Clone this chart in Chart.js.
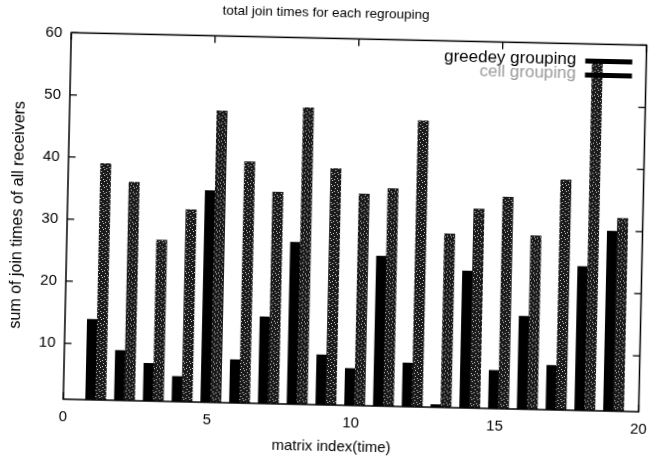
<!DOCTYPE html>
<html>
<head>
<meta charset="utf-8">
<script src="https://cdn.jsdelivr.net/npm/chart.js"></script>
<style>
html,body{margin:0;padding:0;background:#fff;overflow:hidden;}
#wrap{width:663px;height:463px;transform:rotate(1.25deg);transform-origin:50% 50%;}
</style>
</head>
<body>
<div id="wrap"><canvas id="joinChart" width="663" height="463"></canvas></div>
<script>
const matrixIndex=[1,2,3,4,5,6,7,8,9,10,11,12,13,14,15,16,17,18,19];
const greedeyTimes=[14.0,9.1,7.1,5.1,35.1,8.0,15.0,27.1,9.1,7.0,25.2,8.1,1.5,23.1,7.2,16.0,8.2,24.2,30.0];
const cellTimes=[39.1,36.2,27.0,32.0,48.0,39.9,35.1,48.8,39.1,35.1,36.1,47.1,29.0,33.1,35.1,29.0,38.1,57.5,32.1];
const xTicks=[0,5,10,15,20];
const yTicks=[10,20,30,40,50,60];
const seriesNames=["greedey grouping","cell grouping"];
const xTitle="matrix index(time)";

const FONT="'Liberation Sans', Arial, sans-serif";
const CELL_SHIFT=0.3; // cell boxes sit to the right of the greedey boxes

// dithered grey like the scanned gnuplot fill
function makeDither(){
    const c=document.createElement("canvas");
    c.width=6;c.height=6;
    const g=c.getContext("2d");
    g.fillStyle="#1a1a1a";g.fillRect(0,0,6,6);
    g.fillStyle="#d0d0d0";
    [[1,0],[4,2],[0,4],[3,5]].forEach(p=>g.fillRect(p[0],p[1],1,1));
    return g.createPattern(c,"repeat");
}

const frameAndKey={
    id:"frameAndKey",
    afterDatasetsDraw(chart){
        const {ctx,chartArea:a,scales}=chart;
        ctx.save();
        ctx.strokeStyle="#000";
        ctx.lineWidth=1.5;
        ctx.strokeRect(a.left,a.top,a.right-a.left,a.bottom-a.top);
        ctx.lineWidth=1.3;
        ctx.beginPath();
        yTicks.forEach(v=>{
            const y=scales.y.getPixelForValue(v);
            ctx.moveTo(a.left,y);ctx.lineTo(a.left+7,y);
            ctx.moveTo(a.right,y);ctx.lineTo(a.right-7,y);
        });
        xTicks.forEach(v=>{
            const x=scales.x.getPixelForValue(v);
            ctx.moveTo(x,a.bottom);ctx.lineTo(x,a.bottom-7);
            ctx.moveTo(x,a.top);ctx.lineTo(x,a.top+7);
        });
        ctx.stroke();
        // key, top right inside the plot
        const textColors=["#000","#9a9a9a"];
        ctx.font="17px "+FONT;
        ctx.textAlign="right";
        ctx.textBaseline="middle";
        chart.data.datasets.forEach((ds,i)=>{
            const y=a.top+17+i*14;
            ctx.fillStyle=textColors[i];
            ctx.fillText(ds.label,a.right-70,y-1);
            ctx.strokeStyle="#000";
            ctx.lineWidth=5;
            ctx.beginPath();
            ctx.moveTo(a.right-61,y);ctx.lineTo(a.right-14,y);
            ctx.stroke();
        });
        // x axis title, sits a bit left of centre in the original
        ctx.fillStyle="#000";
        ctx.font="15px "+FONT;
        ctx.textAlign="center";
        ctx.fillText(xTitle,(a.left+a.right)/2-19,chart.height-16);
        ctx.restore();
    }
};

// ungrouped bars: width = one index step * barPercentage
const ctx=document.getElementById("joinChart").getContext("2d");
new Chart(ctx,{
    type:"bar",
    data:{
        datasets:[
            {label:seriesNames[0],data:matrixIndex.map((m,i)=>({x:m,y:greedeyTimes[i]})),xAxisID:"x",backgroundColor:"#000",barPercentage:0.47,order:2},
            {label:seriesNames[1],data:matrixIndex.map((m,i)=>({x:m,y:cellTimes[i]})),xAxisID:"x2",backgroundColor:makeDither(),barPercentage:0.38,order:1}
        ]
    },
    options:{
        responsive:false,
        animation:false,
        datasets:{bar:{grouped:false,categoryPercentage:1,borderWidth:0}},
        layout:{padding:{left:0,right:20.5,top:0,bottom:0}},
        plugins:{
            legend:{display:false},
            tooltip:{enabled:false},
            title:{display:true,text:"total join times for each regrouping",color:"#000",
                font:{family:FONT,size:13.5,weight:"normal"},padding:{top:5,bottom:17.2}}
        },
        scales:{
            x:{
                type:"linear",min:0,max:20,offset:false,
                grid:{display:false,drawTicks:false,offset:false},
                border:{display:false},
                afterBuildTicks:s=>{s.ticks=xTicks.map(v=>({value:v}));},
                afterFit:s=>{s.height=58;},
                ticks:{color:"#000",padding:9,maxRotation:0,font:{family:FONT,size:15}}
            },
            x2:{
                type:"linear",display:false,offset:false,
                min:-CELL_SHIFT,max:20-CELL_SHIFT,
                afterBuildTicks:s=>{s.ticks=matrixIndex.map(v=>({value:v}));}
            },
            y:{
                min:1,max:60,
                grid:{display:false,drawTicks:false},
                border:{display:false},
                afterBuildTicks:s=>{s.ticks=yTicks.map(v=>({value:v}));},
                afterFit:s=>{s.width=67;},
                ticks:{color:"#000",padding:9,font:{family:FONT,size:15}},
                title:{display:true,text:"sum of join times of all receivers",color:"#000",font:{family:FONT,size:16},padding:{top:8,bottom:0}}
            }
        }
    },
    plugins:[frameAndKey]
});
</script>
</body>
</html>
